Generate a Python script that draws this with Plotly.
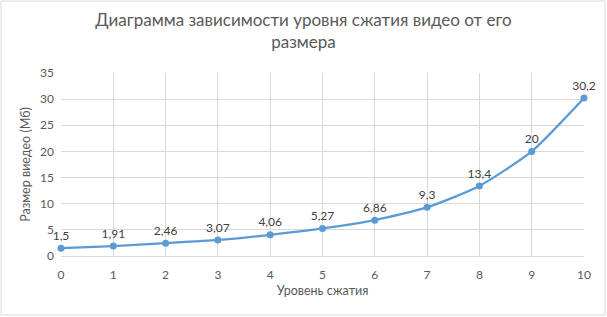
import plotly.graph_objects as go

levels = [0, 1, 2, 3, 4, 5, 6, 7, 8, 9, 10]
sizes = [1.5, 1.91, 2.46, 3.07, 4.06, 5.27, 6.86, 9.3, 13.4, 20, 30.2]
labels = [str(v).replace('.', ',') for v in sizes]
y_ticks = [0, 5, 10, 15, 20, 25, 30, 35]

font_family = "Lato, Open Sans, Liberation Sans, sans-serif"
grey = "#595959"

W, H = 607, 317
L, R, T, B = 61, 23, 73, 61
pw, ph = W - L - R, H - T - B

fig = go.Figure()
fig.add_trace(go.Scatter(
    x=levels, y=sizes, mode="lines+markers+text",
    line=dict(color="#5B9BD5", width=2.25, shape="spline", smoothing=0.6),
    marker=dict(color="#5B9BD5", size=7),
    text=labels, textposition="top center",
    textfont=dict(size=12, color="#404040", family=font_family),
    cliponaxis=False, hoverinfo="x+y",
))

fig.update_layout(
    width=W, height=H,
    margin=dict(l=L, r=R, t=T, b=B, autoexpand=False),
    paper_bgcolor="white", plot_bgcolor="white",
    showlegend=False,
    title=dict(text="Диаграмма зависимости уровня сжатия видео от его<br>размера",
               xref="container", x=0.5, xanchor="center",
               yref="container", y=0.918, yanchor="top",
               font=dict(size=17, color=grey, family=font_family)),
    font=dict(family=font_family, color=grey, size=12),
    xaxis=dict(range=[0, 10], tickmode="array", tickvals=levels,
               showgrid=True, gridcolor="#D9D9D9", gridwidth=1,
               zeroline=False, showline=True, linecolor="#D9D9D9",
               ticks="", ticklabelstandoff=8, automargin=False,
               title=dict(text="Уровень сжатия", font=dict(size=12.5, color=grey), standoff=4),
               tickfont=dict(size=12, color=grey)),
    yaxis=dict(range=[0, 35], tickmode="array", tickvals=y_ticks,
               showgrid=True, gridcolor="#D9D9D9", gridwidth=1,
               zeroline=False, showline=False, ticks="", automargin=False,
               ticklabelstandoff=6,
               title=dict(text="Размер виедео (Мб)", font=dict(size=12.5, color=grey), standoff=6),
               tickfont=dict(size=12, color=grey)),
    shapes=[dict(type="rect", xref="paper", yref="paper",
                 x0=-(L - 1) / pw, x1=1 + (R - 2) / pw,
                 y0=-(B - 2) / ph, y1=1 + (T - 1) / ph,
                 line=dict(color="#D9D9D9", width=1))],
)

fig.write_html("out.html", config={"displayModeBar": False},
               post_script="document.body.style.margin='0';")
